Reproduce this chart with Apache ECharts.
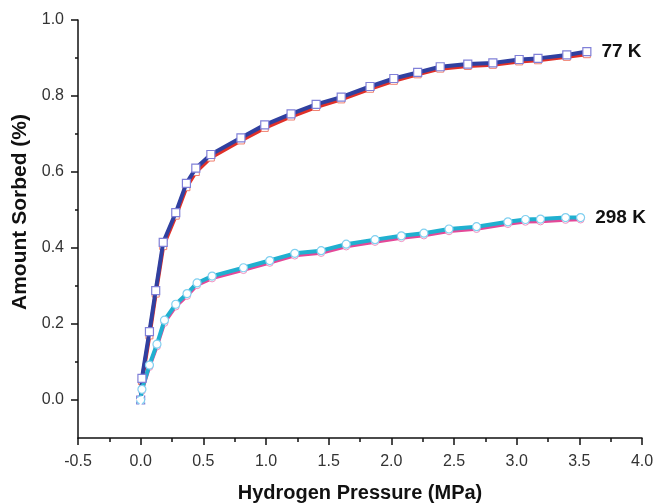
<!DOCTYPE html>
<html><head><meta charset="utf-8">
<script src="https://cdn.jsdelivr.net/npm/echarts@6/dist/echarts.min.js"></script>
<style>html,body{margin:0;padding:0;background:#fff}#c{width:655px;height:504px}</style>
</head><body><div id="c"></div>
<script>
const xTitle = 'Hydrogen Pressure (MPa)';
const yTitle = 'Amount Sorbed (%)';
const seriesLabels = ['77 K', '298 K'];
const yMajorTicks = [0, 0.2, 0.4, 0.6, 0.8, 1.0];
const yMinorTicks = [0.1, 0.3, 0.5, 0.7, 0.9];

// 77 K
const x77  = [0.00, 0.01, 0.07, 0.12, 0.18, 0.28, 0.365, 0.44, 0.56, 0.80, 0.99, 1.20, 1.40, 1.60, 1.83, 2.02, 2.21, 2.39, 2.61, 2.81, 3.02, 3.17, 3.40, 3.56];
const y77  = [0.00, 0.057, 0.18, 0.288, 0.415, 0.493, 0.57, 0.61, 0.646, 0.69, 0.724, 0.753, 0.778, 0.797, 0.825, 0.846, 0.862, 0.877, 0.884, 0.887, 0.896, 0.899, 0.908, 0.917];
const y77b = [0.00, 0.05, 0.17, 0.28, 0.405, 0.485, 0.56, 0.60, 0.638, 0.683, 0.716, 0.746, 0.771, 0.791, 0.819, 0.840, 0.857, 0.872, 0.879, 0.882, 0.891, 0.894, 0.903, 0.910];
// 298 K
const x298  = [0.00, 0.01, 0.07, 0.13, 0.19, 0.28, 0.37, 0.45, 0.57, 0.82, 1.03, 1.23, 1.44, 1.64, 1.87, 2.08, 2.26, 2.46, 2.68, 2.93, 3.07, 3.19, 3.39, 3.51];
const y298  = [0.00, 0.028, 0.092, 0.147, 0.21, 0.252, 0.28, 0.308, 0.326, 0.348, 0.367, 0.386, 0.393, 0.41, 0.422, 0.432, 0.439, 0.45, 0.456, 0.469, 0.475, 0.476, 0.48, 0.48];
const y298b = [0.00, 0.024, 0.087, 0.141, 0.203, 0.246, 0.274, 0.302, 0.320, 0.342, 0.361, 0.380, 0.387, 0.404, 0.416, 0.426, 0.433, 0.444, 0.450, 0.463, 0.469, 0.470, 0.474, 0.475];

const FONT = 'Liberation Sans, Arial, sans-serif';

function build(xs, ys, label) {
  return xs.map((x, i) => {
    const item = { value: [x, ys[i]] };
    if (i === 0) item.itemStyle = { borderType: 'dashed' };
    if (label && i === xs.length - 1) {
      item.label = {
        show: true, formatter: label, position: 'right', distance: 10,
        fontSize: 19, fontWeight: 'bold', color: '#111', fontFamily: FONT
      };
    }
    return item;
  });
}

const chart = echarts.init(document.getElementById('c'), null, { renderer: 'canvas' });
const axisColor = '#111';
chart.setOption({
  animation: false,
  backgroundColor: '#fff',
  grid: { left: 78, right: 13, top: 20, bottom: 66, containLabel: false, outerBoundsMode: 'none' },
  xAxis: {
    type: 'value', min: -0.5, max: 4.0, interval: 0.5,
    axisLine: { show: true, onZero: false, lineStyle: { color: axisColor, width: 1.5 } },
    axisTick: { show: true, length: 7, lineStyle: { color: axisColor, width: 1.5 } },
    minorTick: { show: true, splitNumber: 2, length: 4, lineStyle: { color: axisColor, width: 1.5 } },
    axisLabel: { fontSize: 16, color: '#333', margin: 16, fontFamily: FONT, formatter: v => v.toFixed(1) },
    splitLine: { show: false },
    name: xTitle, nameLocation: 'middle', nameGap: 45,
    nameTextStyle: { fontSize: 20, fontWeight: 'bold', color: '#111', fontFamily: FONT }
  },
  yAxis: [{
    type: 'value', min: -0.1, max: 1.0,
    axisLine: { show: true, onZero: false, lineStyle: { color: axisColor, width: 1.5 } },
    axisTick: { show: true, customValues: yMajorTicks, length: 7, lineStyle: { color: axisColor, width: 1.5 } },
    axisLabel: { customValues: yMajorTicks, fontSize: 16, color: '#333', margin: 14, fontFamily: FONT, formatter: v => v.toFixed(1) },
    splitLine: { show: false },
    name: yTitle, nameLocation: 'middle', nameGap: 46,
    nameTextStyle: { fontSize: 21, fontWeight: 'bold', color: '#111', fontFamily: FONT, padding: [0, 0, 0, 34] }
  }, {
    type: 'value', min: -0.1, max: 1.0, position: 'left',
    axisLine: { show: false, onZero: false },
    axisTick: { show: true, customValues: yMinorTicks, length: 3, lineStyle: { color: axisColor, width: 1.5 } },
    axisLabel: { show: false },
    splitLine: { show: false }
  }],
  series: [
    {
      type: 'line', name: '77 K b', yAxisIndex: 0, data: build(x77, y77b, null),
      symbol: 'rect', symbolSize: 7, showAllSymbol: true,
      lineStyle: { color: '#e03028', width: 4 },
      itemStyle: { color: '#fff', borderColor: '#f08070', borderWidth: 1 }, z: 2
    },
    {
      type: 'line', name: seriesLabels[0], yAxisIndex: 0, data: build(x77, y77, seriesLabels[0]),
      symbol: 'rect', symbolSize: 8, showAllSymbol: true,
      lineStyle: { color: '#3040a0', width: 4 },
      itemStyle: { color: '#fff', borderColor: '#8080d8', borderWidth: 1.2 }, z: 3
    },
    {
      type: 'line', name: '298 K b', yAxisIndex: 0, data: build(x298, y298b, null),
      symbol: 'circle', symbolSize: 7, showAllSymbol: true,
      lineStyle: { color: '#e44898', width: 3.5 },
      itemStyle: { color: '#fff', borderColor: '#f090c0', borderWidth: 1 }, z: 2
    },
    {
      type: 'line', name: seriesLabels[1], yAxisIndex: 0, data: build(x298, y298, seriesLabels[1]),
      symbol: 'circle', symbolSize: 8, showAllSymbol: true,
      lineStyle: { color: '#20b0d0', width: 4 },
      itemStyle: { color: '#fff', borderColor: '#80d0f0', borderWidth: 1.2 }, z: 3
    }
  ]
});
</script></body></html>
